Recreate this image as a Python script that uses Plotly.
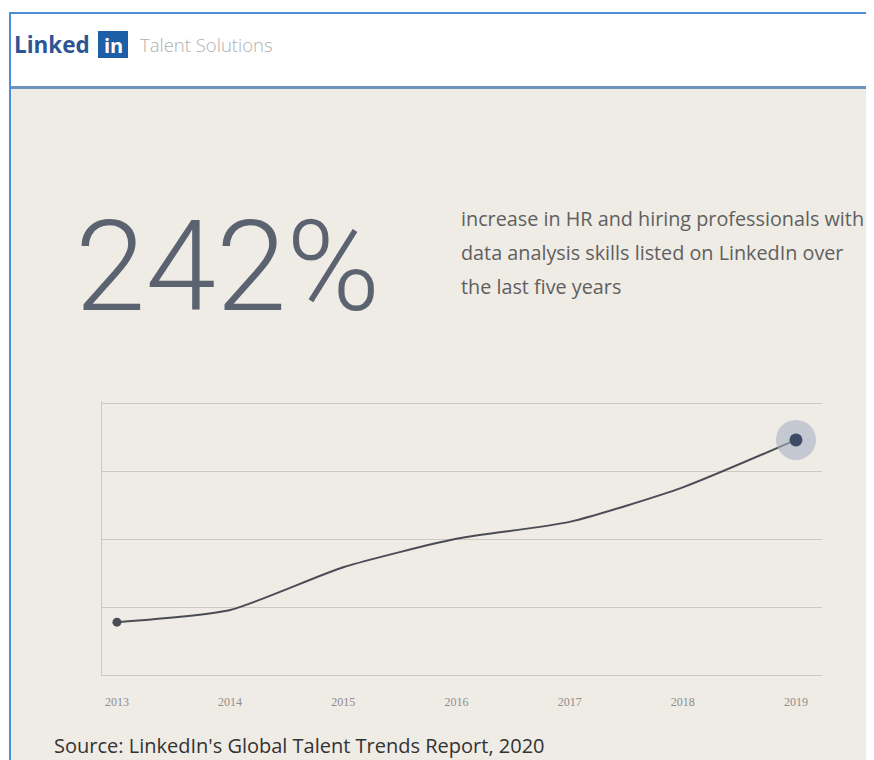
import plotly.graph_objects as go

years = [2013, 2014, 2015, 2016, 2017, 2018, 2019]
values = [0.78, 0.96, 1.59, 2.01, 2.26, 2.77, 3.47]
tick_labels = ["2013", "2014", "2015", "2016", "2017", "2018", "2019"]
headline = "242%"
description = ["increase in HR and hiring professionals with",
               "data analysis skills listed on LinkedIn over",
               "the last five years"]
source = "Source: LinkedIn's Global Talent Trends Report, 2020"

# page has an 8px body margin; figure is sized to fill the rest of the window
OFF = 8
W, H = 874 - OFF, 760 - OFF
BG = "#efebe5"
GRID = "#cdc8c1"

def py(p):
    return 1 - (p - OFF) / H

def px(p):
    return (p - OFF) / W

fig = go.Figure()

fig.add_trace(go.Scatter(
    x=years, y=values, mode="lines", line=dict(color="#4a4d55", width=2, shape="spline", smoothing=0.6),
    hoverinfo="skip", showlegend=False))
fig.add_trace(go.Scatter(
    x=years[:1], y=values[:1], mode="markers", marker=dict(size=9, color="#4a4d55"),
    showlegend=False, hoverinfo="skip"))
fig.add_trace(go.Scatter(
    x=years[-1:], y=values[-1:], mode="markers",
    marker=dict(size=40, color="rgba(165,176,195,0.6)"), showlegend=False, hoverinfo="skip"))
fig.add_trace(go.Scatter(
    x=years[-1:], y=values[-1:], mode="markers",
    marker=dict(size=13, color="#3c4b68"), showlegend=False, hoverinfo="skip"))

shapes = [
    dict(type="rect", xref="paper", yref="paper", x0=px(9), x1=1, y0=py(87), y1=py(13),
         fillcolor="white", line=dict(width=0), layer="below"),
    dict(type="rect", xref="paper", yref="paper", x0=0, x1=px(9), y0=0, y1=1,
         fillcolor="white", line=dict(width=0)),
    dict(type="rect", xref="paper", yref="paper", x0=0, x1=1, y0=py(13), y1=1,
         fillcolor="white", line=dict(width=0)),
    dict(type="line", xref="paper", yref="paper", x0=px(9), x1=1, y0=py(87.5), y1=py(87.5),
         line=dict(color="#6b93bd", width=3)),
    dict(type="line", xref="paper", yref="paper", x0=px(9), x1=1, y0=py(13), y1=py(13),
         line=dict(color="#4d8fd6", width=2)),
    dict(type="line", xref="paper", yref="paper", x0=px(10), x1=px(10), y0=0, y1=py(13),
         line=dict(color="#4d8fd6", width=2)),
    dict(type="rect", xref="paper", yref="paper", x0=px(98), x1=px(128), y0=py(58), y1=py(31),
         fillcolor="#1d5fa6", line=dict(width=0)),
]

annotations = [
    dict(text="<b>Linked</b>", x=px(12), y=py(45), xref="paper", yref="paper", xanchor="left",
         yanchor="middle", showarrow=False, font=dict(family="Open Sans", size=22.5, color="#2d5594")),
    dict(text="<b>in</b>", x=px(113), y=py(46), xref="paper", yref="paper", xanchor="center",
         yanchor="middle", showarrow=False, font=dict(family="Open Sans", size=20, color="white")),
    dict(text="Talent Solutions", x=px(138), y=py(45), xref="paper", yref="paper", xanchor="left",
         yanchor="middle", showarrow=False,
         font=dict(family="Open Sans", size=18.5, color="#b0b0b0", weight=300)),
    dict(text=headline, x=px(73), y=py(266), xref="paper", yref="paper", xanchor="left",
         yanchor="middle", showarrow=False,
         font=dict(family="Roboto", size=127, color="#5b6371", weight=300)),
    dict(text=source, x=px(52), y=py(745), xref="paper", yref="paper", xanchor="left",
         yanchor="middle", showarrow=False,
         font=dict(family="Open Sans", size=20, color="#333333")),
]
for line, yy in zip(description, [218, 252, 286]):
    annotations.append(dict(text=line, x=px(459), y=py(yy), xref="paper", yref="paper",
                            xanchor="left", yanchor="middle", showarrow=False,
                            font=dict(family="Open Sans", size=19.8, color="#606060")))

fig.update_layout(
    width=W, height=H, margin=dict(l=0, r=0, t=0, b=0),
    paper_bgcolor=BG, plot_bgcolor=BG,
    shapes=shapes, annotations=annotations,
    xaxis=dict(domain=[px(102), px(822)], range=[2012.868, 2019.23], tickvals=years,
               ticktext=tick_labels, showgrid=False, zeroline=False, showline=True,
               linecolor=GRID, linewidth=1, ticks="", ticklabelstandoff=16,
               tickfont=dict(family="Liberation Serif", size=12, color="#8e8e8e")),
    yaxis=dict(domain=[py(675), py(400.6)], range=[0, 4.05], tickvals=[1, 2, 3, 4],
               showticklabels=False, showgrid=True, gridcolor=GRID, gridwidth=1,
               zeroline=False, showline=True, linecolor=GRID, linewidth=1, ticks=""),
)

fig.write_html("out.html")
